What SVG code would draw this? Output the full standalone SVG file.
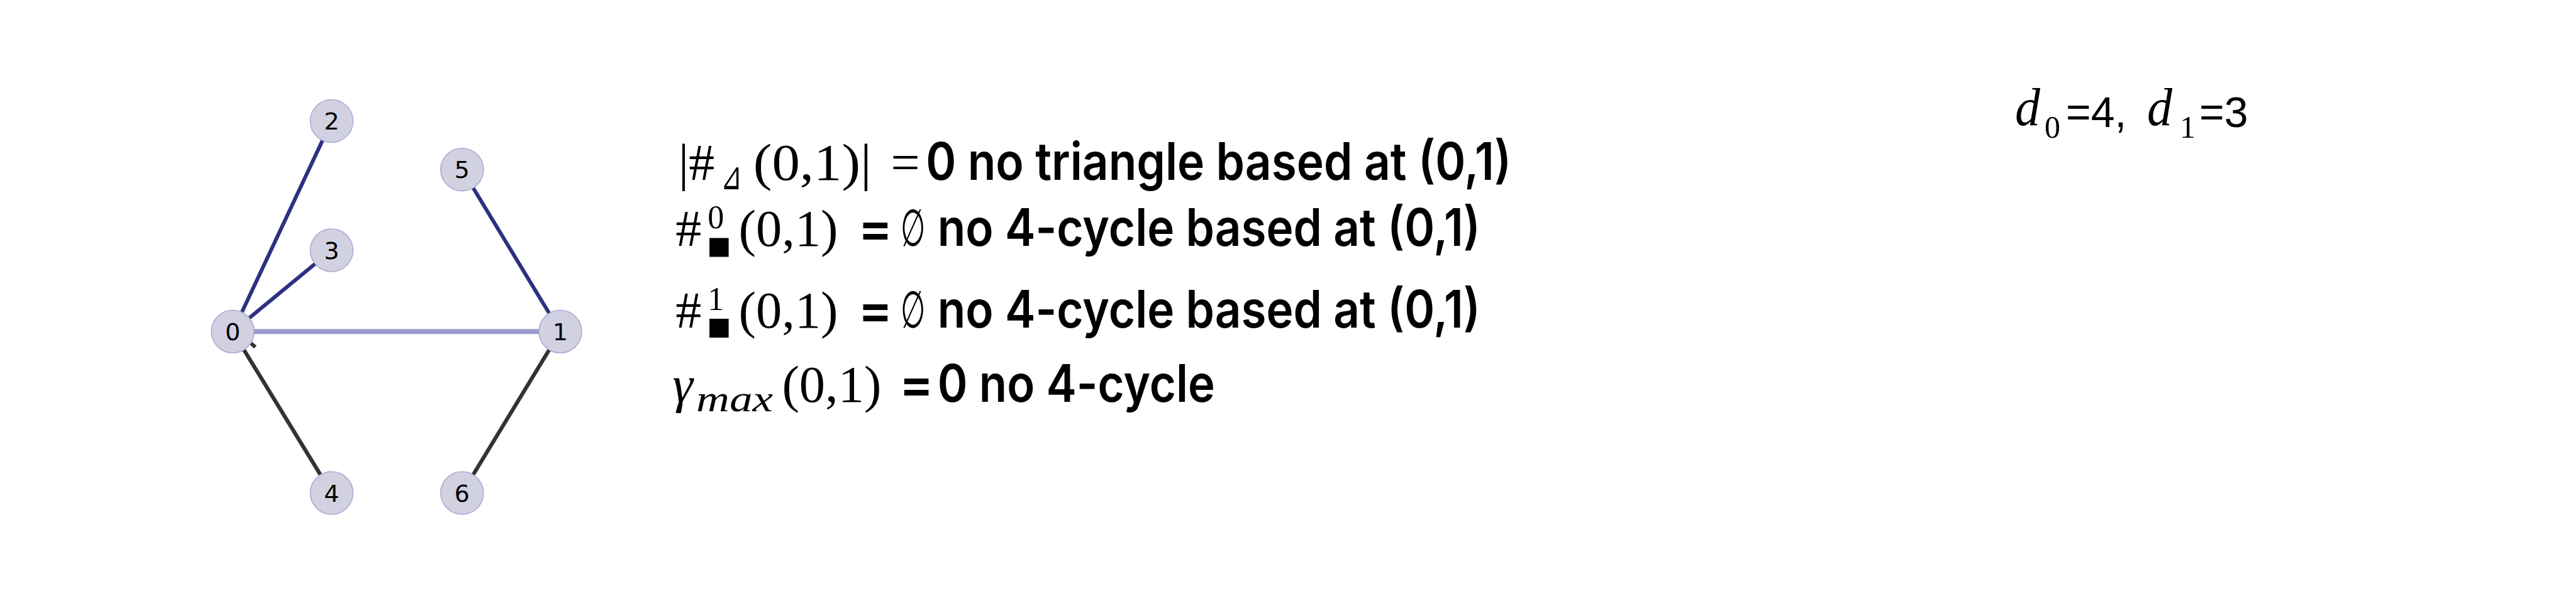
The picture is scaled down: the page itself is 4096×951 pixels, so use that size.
<svg xmlns="http://www.w3.org/2000/svg" width="4096" height="951" viewBox="0 0 4096 951">
<style>
.navy{stroke:#2e3081;stroke-width:6;fill:none}
.light{stroke:#9b9bcd;stroke-width:8;fill:none}
.dark{stroke:#333333;stroke-width:6.2;fill:none}
.node circle{fill:#d1d1e1;stroke:#aaaad8;stroke-width:1.6}
.node text{font-family:"DejaVu Sans",sans-serif;font-size:38px;fill:#000;text-anchor:middle}
.m{font-family:"Liberation Serif","DejaVu Serif",serif;fill:#000}
.s{font-family:Inter,"Liberation Sans",sans-serif;font-weight:600;fill:#000}
.a{font-family:"Liberation Sans",Arial,sans-serif;fill:#000}
.sq{fill:#000}
</style>
<rect width="4096" height="951" fill="#ffffff"/>
<g id="connectors">
<line class="navy" x1="370.1" y1="527.3" x2="527.3" y2="192.5"/>
<line class="navy" x1="370.1" y1="527.3" x2="527.3" y2="398"/>
<line class="navy" x1="890.9" y1="527.3" x2="734.7" y2="269.7"/>
<line class="light" x1="370.1" y1="527.3" x2="890.9" y2="527.3"/>
<line class="dark" x1="370.1" y1="527.3" x2="527.3" y2="784"/>
<line class="dark" x1="890.9" y1="527.3" x2="734.7" y2="784"/>
<line class="dark" x1="398" y1="545" x2="406" y2="552"/>
</g>
<g id="node0" class="node"><circle cx="370.1" cy="527.3" r="34"/><text x="370.1" y="541">0</text></g>
<g id="node1" class="node"><circle cx="890.9" cy="527.3" r="34"/><text x="890.9" y="541">1</text></g>
<g id="node2" class="node"><circle cx="527.3" cy="192.5" r="34"/><text x="527.3" y="206">2</text></g>
<g id="node3" class="node"><circle cx="527.3" cy="398" r="34"/><text x="527.3" y="411.5">3</text></g>
<g id="node4" class="node"><circle cx="527.3" cy="784" r="34"/><text x="527.3" y="797.5">4</text></g>
<g id="node5" class="node"><circle cx="734.7" cy="269.7" r="34"/><text x="734.7" y="283.2">5</text></g>
<g id="node6" class="node"><circle cx="734.7" cy="784" r="34"/><text x="734.7" y="797.5">6</text></g>
<g id="labels">
<text class="m" font-size="82" x="1078.8" y="285.5">|#</text>
<text font-family="DejaVu Sans,sans-serif" font-size="62" x="1146" y="301" textLength="34" lengthAdjust="spacingAndGlyphs">⊿</text>
<text class="m" font-size="82" x="1197.8" y="285.5" textLength="188" lengthAdjust="spacingAndGlyphs">(0,1)|</text>
<text class="m" font-size="82" x="1416.4" y="285.5">=</text>
<text class="s" font-size="82" x="1472.2" y="285.5" textLength="931" lengthAdjust="spacingAndGlyphs">0 no triangle based at (0,1)</text>

<text class="m" font-size="82" x="1074.2" y="390.6">#</text>
<text class="m" font-size="52" x="1125.3" y="362.7">0</text>
<rect class="sq" x="1128.1" y="378.5" width="30.5" height="30"/>
<text class="m" font-size="82" x="1174.6" y="390.6" textLength="158" lengthAdjust="spacingAndGlyphs">(0,1)</text>
<text class="s" font-size="82" x="1364.3" y="390.6">=</text>
<text class="m" font-size="82" transform="translate(1432,390.6) scale(0.55,1)">∅</text>
<text class="s" font-size="82" x="1490.8" y="390.6" textLength="863" lengthAdjust="spacingAndGlyphs">no 4-cycle based at (0,1)</text>

<text class="m" font-size="82" x="1074.2" y="520.8">#</text>
<text class="m" font-size="52" x="1125.3" y="492.9">1</text>
<rect class="sq" x="1128.1" y="506.9" width="30.5" height="30"/>
<text class="m" font-size="82" x="1174.6" y="520.8" textLength="158" lengthAdjust="spacingAndGlyphs">(0,1)</text>
<text class="s" font-size="82" x="1364.3" y="520.8">=</text>
<text class="m" font-size="82" transform="translate(1432,520.8) scale(0.55,1)">∅</text>
<text class="s" font-size="82" x="1490.8" y="520.8" textLength="863" lengthAdjust="spacingAndGlyphs">no 4-cycle based at (0,1)</text>

<text class="m" font-size="82" font-style="italic" x="1069.5" y="638.9">γ</text>
<text class="m" font-size="60" font-style="italic" x="1107" y="653.8" textLength="122" lengthAdjust="spacingAndGlyphs">max</text>
<text class="m" font-size="82" x="1243.4" y="638.9" textLength="158" lengthAdjust="spacingAndGlyphs">(0,1)</text>
<text class="s" font-size="82" x="1429.4" y="638.9">=</text>
<text class="s" font-size="82" x="1490.8" y="638.9" textLength="441" lengthAdjust="spacingAndGlyphs">0 no 4-cycle</text>

<text class="m" font-size="84" font-style="italic" x="3204" y="199" textLength="40" lengthAdjust="spacingAndGlyphs">d</text>
<text class="m" font-size="50" x="3251" y="218.6">0</text>
<text class="a" font-size="68" x="3285" y="201.8">=4,</text>
<text class="m" font-size="84" font-style="italic" x="3414" y="199" textLength="40" lengthAdjust="spacingAndGlyphs">d</text>
<text class="m" font-size="50" x="3466" y="218.6">1</text>
<text class="a" font-size="68" x="3497" y="201.8">=3</text>
</g>
</svg>
